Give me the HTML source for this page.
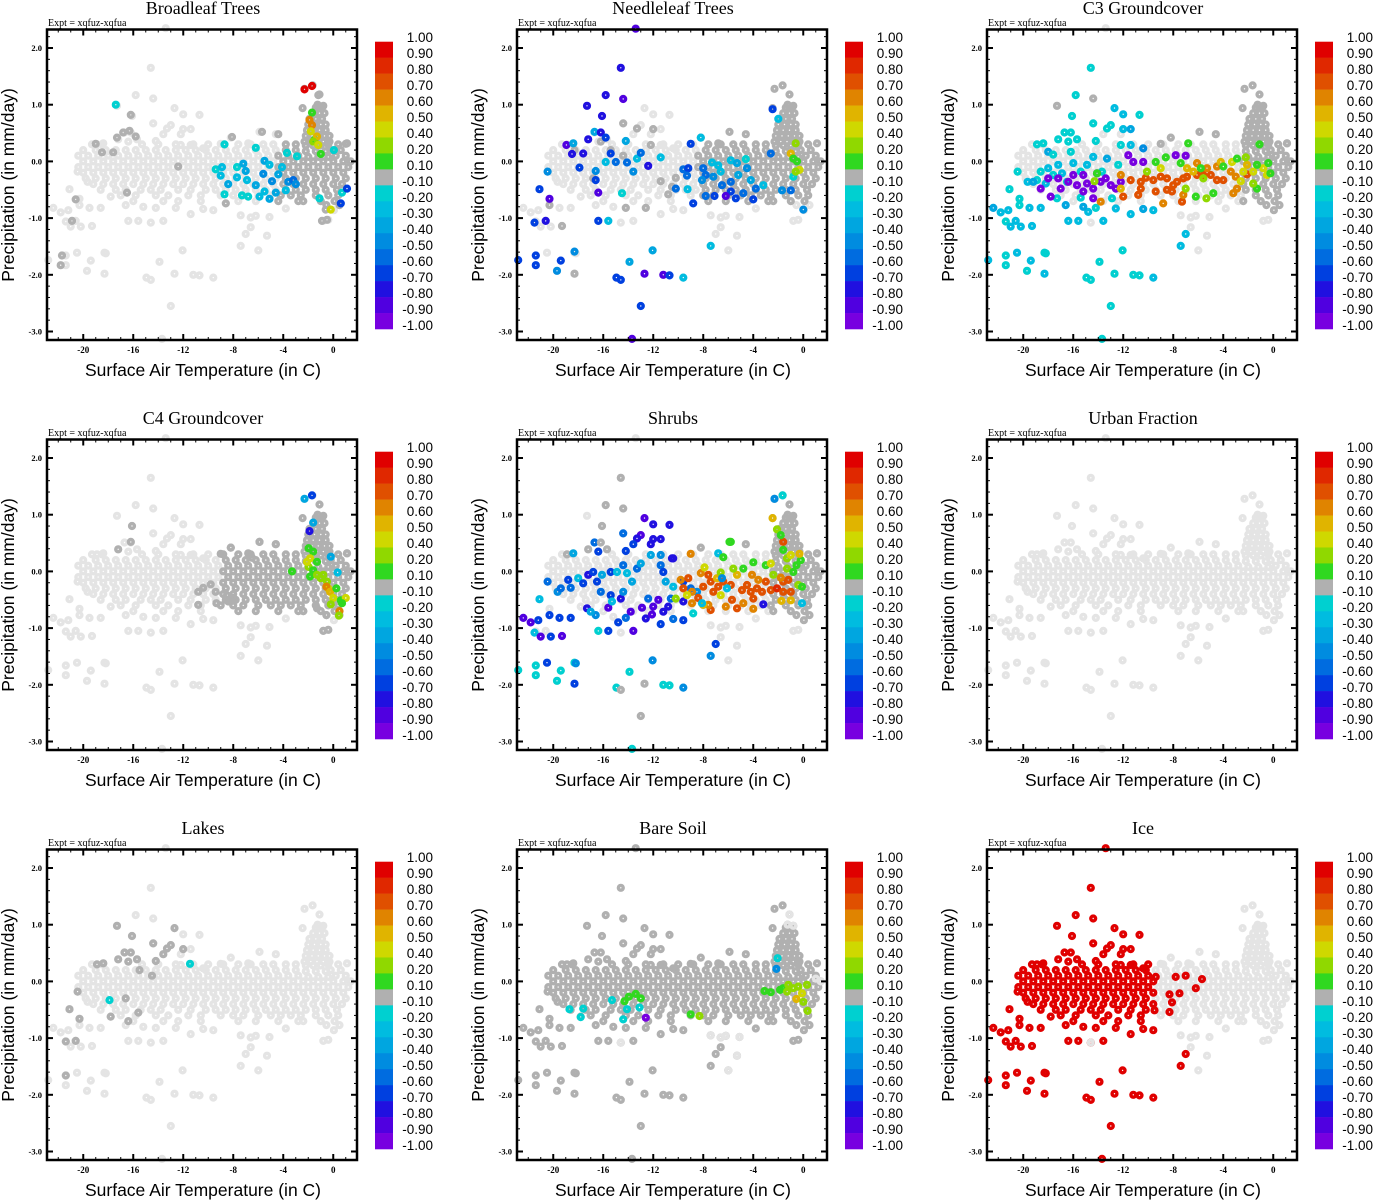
<!DOCTYPE html>
<html><head><meta charset="utf-8"><title>Land fraction scatter</title>
<style>html,body{margin:0;padding:0;background:#fff;}svg{display:block;}</style></head>
<body>
<svg id="fig" width="1373" height="1200" viewBox="0 0 1373 1200" xmlns="http://www.w3.org/2000/svg"></svg>
<script>
// ---------- shared data ----------
const panelTitles = ["Broadleaf Trees","Needleleaf Trees","C3 Groundcover","C4 Groundcover","Shrubs","Urban Fraction","Lakes","Bare Soil","Ice"];
const xTicks = [-20,-16,-12,-8,-4,0];
const yTicks = [2,1,0,-1,-2,-3];
const cbLabels = ["1.00","0.90","0.80","0.70","0.60","0.50","0.40","0.20","0.10","-0.10","-0.20","-0.30","-0.40","-0.50","-0.60","-0.70","-0.80","-0.90","-1.00"];
const binLower = [0.9,0.8,0.7,0.6,0.5,0.4,0.2,0.1,-0.1,-0.2,-0.3,-0.4,-0.5,-0.6,-0.7,-0.8,-0.9,-1.01];
const binColors = ["#e00000","#e02800","#e05000","#e08400","#e0b400","#cfd800","#90d800","#30d820","#b0b0b0","#00d0d0","#00bce0","#00a6e0","#008ce0","#006ce0","#0040e0","#2010e0","#5000e0","#7800e0"];

// base cloud: outliers (temperature, precipitation)
const outlierT = [-14.6,-15.8,-14.4,-17.3,-12.7,-16.1,-12.0,-10.7,-14.4,-13.0,-13.3,-12.0,-11.4,-16.7,-16.2,-13.6,-12.2,-5.9,-4.6,-8.2,-17.2,-15.7,-16.4,-14.2,-18.9,-18.4,-12.2,-11.4,-9.0,-6.8,-10.4,1.1,-2.45,-2.3,-1.65,-1.1,-1.25,-0.8,-20.45,-21.1,-22.4,-21.8,-21.2,-20.3,-20.3,-19.5,-18.6,-21.4,-20.6,-21.0,-20.2,-19.3,-16.4,-15.6,-14.6,-13.6,-17.8,-16.6,-15.2,-14.2,-12.6,-11.4,-10.4,-9.6,-7.4,-6.6,-6.2,-5.1,-3.8,-2.4,-0.55,0.05,0.5,-0.8,-0.4,-6.6,-5.3,-7.0,-7.4,-6.0,-12.05,-13.9,-21.4,-20.5,-21.4,-19.4,-19.7,-18.3,-18.2,-18.3,-14.95,-14.6,-12.7,-11.2,-10.7,-9.6,-13.0,-22.8,-13.4,-13.7,-19.65];
const outlierP = [1.65,1.17,1.11,0.98,0.94,0.80,0.83,0.82,0.67,0.64,0.58,0.57,0.57,0.51,0.51,0.48,0.48,0.52,0.48,0.42,0.39,0.39,0.35,0.36,0.30,0.32,0.29,0.29,0.31,0.32,0.23,0.32,0.94,1.28,1.34,1.18,1.0,0.98,-0.18,-0.49,-0.82,-0.90,-0.86,-0.66,-0.77,-0.82,-0.82,-1.06,-1.05,-1.15,-1.15,-1.14,-1.05,-1.05,-1.08,-1.05,-0.62,-0.77,-0.80,-0.82,-0.82,-0.93,-0.84,-0.86,-0.95,-0.99,-0.96,-0.98,-0.83,-0.70,-0.77,-0.86,-0.77,-1.05,-1.03,-1.16,-1.31,-1.28,-1.49,-1.57,-1.57,-1.77,-1.66,-1.61,-1.83,-1.75,-1.93,-1.61,-1.62,-1.98,-2.05,-2.09,-1.98,-2.0,-2.01,-2.05,-2.55,-1.74,2.35,-3.13,-0.36];

// base cloud: dense band rows (precipitation level and temperatures on that row)
const coreP = [0.30,0.20,0.10,0.00,-0.10,-0.20,-0.30,-0.40,-0.50,-0.60,-0.70,0.95,0.85,0.75,0.65,0.55,0.45,0.35,0.28,0.18,0.08];
const coreT = [
 [-19.3,-18.5,-15.3,-14.0,-12.6,-11.2,-10.0,-8.8,-7.6,-6.6,-5.6,-4.8,-3.8,-3.0,-0.4,0.4],
 [-20.0,-19.0,-18.2,-17.4,-16.6,-15.8,-15.0,-14.2,-13.4,-12.6,-11.8,-11.0,-10.2,-9.4,-8.6,-7.8,-7.0,-6.2,-5.4,-4.6,-3.8,-3.0,-0.2,0.6],
 [-20.4,-19.6,-18.8,-18.0,-17.2,-16.4,-15.6,-14.8,-14.0,-13.2,-12.4,-11.6,-10.8,-10.0,-9.2,-8.4,-7.6,-6.8,-6.0,-5.2,-4.4,-3.6,-2.8,0.2,1.0],
 [-20.0,-19.2,-18.4,-17.6,-16.8,-16.0,-15.2,-14.4,-13.6,-12.8,-12.0,-11.2,-10.4,-9.6,-8.8,-8.0,-7.2,-6.4,-5.6,-4.8,-4.0,-3.2,-2.4,-1.6,-0.8,0.0,0.8,1.4],
 [-20.4,-19.6,-18.8,-18.0,-17.2,-16.4,-15.6,-14.8,-14.0,-13.2,-12.4,-11.6,-10.8,-10.0,-9.2,-8.4,-7.6,-6.8,-6.0,-5.2,-4.4,-3.6,-2.8,-2.0,-1.2,-0.4,0.4,1.2],
 [-20.0,-19.2,-18.4,-17.6,-16.8,-16.0,-15.2,-14.4,-13.6,-12.8,-12.0,-11.2,-10.4,-9.6,-8.8,-8.0,-7.2,-6.4,-5.6,-4.8,-4.0,-3.2,-2.4,-1.6,-0.8,0.0,0.8],
 [-19.8,-19.0,-18.2,-17.4,-16.6,-15.8,-15.0,-14.2,-13.4,-12.6,-11.8,-11.0,-10.2,-9.4,-8.6,-7.8,-7.0,-6.2,-5.4,-4.6,-3.8,-3.0,-2.2,-1.4,-0.6,0.2,1.0],
 [-19.2,-18.4,-17.6,-16.8,-16.0,-15.2,-14.4,-13.6,-12.8,-12.0,-11.2,-10.4,-9.6,-8.8,-8.0,-7.2,-6.4,-5.6,-4.8,-4.0,-3.2,-2.4,-1.6,-0.8,0.0,0.7],
 [-18.6,-17.4,-16.6,-15.4,-14.6,-13.8,-12.4,-11.4,-10.2,-9.4,-8.6,-7.8,-7.0,-6.2,-5.4,-4.6,-3.8,-3.0,-2.2,-1.4,-0.6,0.3],
 [-17.0,-15.8,-14.2,-13.2,-11.6,-10.6,-9.0,-8.0,-7.2,-6.0,-5.0,-4.2,-3.4,-2.6,-1.4,-0.4,0.4],
 [-16.0,-13.6,-12.4,-10.6,-7.6,-6.2,-4.4,-2.8,-1.0,0.1],
 [-1.4,-0.9],
 [-1.6,-1.1,-0.7],
 [-1.9,-1.4,-0.9],
 [-2.0,-1.5,-1.0,-0.6],
 [-2.1,-1.6,-1.1,-0.6],
 [-2.2,-1.7,-1.2,-0.7,-0.3],
 [-2.3,-1.8,-1.3,-0.8,-0.3],
 [-2.2,-1.6,-1.0],
 [-2.2,-1.4,-0.6],
 [-2.0,-1.2,-0.4]
];

// per-panel region fill of the base cloud: [tMin, tMax, pMin, pMax, value]
const broadleafFill = [-4.5,1.5,-0.8,1.5,0];
const needleleafFill = [-8.5,1.5,-0.75,1.5,0];
const c3Fill = [-2.5,1.5,-0.9,1.5,0];
const c4Fill = [-9,1.5,-0.8,1.2,0];
const shrubsFill = [-2.6,1.5,-0.9,1.5,0];
const urbanFill = null;
const lakesFill = null;
const bareFill = [-23,1.5,-3.5,2.5,0];
const iceFill = [-23,-9.5,-3.5,2.5,0.95];

// per-panel highlighted points: [temperature, precipitation, value]
const broadleafPts = [[-2.3,1.27,0.95],[-1.7,1.33,0.95],[-17.4,1.0,-0.15],
[-16.2,0.82,0],[-19.0,0.31,0],[-18.5,0.16,0],[-17.6,0.16,0],[-17.3,0.42,0],[-16.8,0.51,0],[-16.3,0.54,0],[-15.8,0.44,0],[-16.5,-0.55,0],[-12.4,-0.09,0],[-20.6,-0.67,0],[-20.9,-1.05,0],[-21.7,-1.66,0],[-21.8,-1.83,0],[-8.1,0.43,0],[-5.7,0.52,0],[-4.4,0.48,0],[-8.6,-0.74,0],[-1.2,1.17,0],[-1.2,0.97,0],[-0.9,-1.05,0],[-0.5,-1.03,0],[1.0,0.31,0],[-0.6,-0.85,0],
[-9.4,-0.14,-0.2],[-8.9,-0.1,-0.3],[-9.0,-0.25,-0.3],[-8.7,0.3,-0.2],[-8.4,-0.4,-0.35],[-8.7,-0.58,-0.2],[-7.7,-0.1,-0.2],[-7.2,-0.04,-0.35],[-7.0,-0.17,-0.35],[-7.7,-0.28,-0.3],[-6.9,-0.33,-0.3],[-6.2,-0.42,-0.35],[-7.3,-0.6,-0.2],[-6.8,-0.62,-0.2],[-5.9,-0.62,-0.3],[-5.5,-0.53,-0.3],[-5.1,-0.66,-0.35],[-4.6,-0.55,-0.35],[-6.2,0.24,-0.2],[-5.5,0.01,-0.35],[-5.1,-0.06,-0.3],[-5.6,-0.22,-0.45],[-4.9,-0.35,-0.45],[-4.4,-0.23,-0.35],[-4.1,-0.1,-0.3],[-3.7,0.15,-0.2],[-3.6,-0.36,-0.45],[-3.8,-0.51,-0.3],[-3.2,-0.33,-0.55],[-3.0,-0.40,-0.45],[-2.9,0.09,-0.2],[-1.1,-0.65,-0.2],[0.05,0.2,-0.2],[0.7,-0.55,-0.2],[0.6,-0.74,-0.65],[1.1,-0.48,-0.65],
[-1.7,0.86,0.15],[-1.9,0.73,0.65],[-1.7,0.64,0.65],[-1.8,0.53,0.45],[-1.5,0.38,0.15],[-1.3,0.44,0.55],[-1.6,0.35,0.3],[-1.2,0.29,0.45],[-1.0,0.13,0.15],[-0.2,-0.85,0.45]];

const needleleafPts = [[-14.4,0.67,0],[-12.0,0.57,0],[-13.3,0.58,0],[-12.2,0.29,0],[-18.3,0.20,0],[-16.8,-0.30,0],[-16.2,0.35,0],[-15.4,0.20,0],[-14.4,0.10,0],[-11.4,-0.35,0],[-10.8,-0.58,0],[-10.5,-0.45,0],[-10.2,-0.29,0],[-14.2,-0.82,0],[-12.6,-0.82,0],[-20.3,-0.77,0],[-19.3,-1.14,0],[-18.3,-1.98,0],
[-13.4,2.34,-0.85],[-14.6,1.65,-0.75],[-15.8,1.17,-0.75],[-14.4,1.1,-0.85],[-17.3,0.98,-0.8],[-16.1,0.80,-0.8],[-16.7,0.52,-0.35],[-16.2,0.51,-0.8],[-15.8,0.42,-0.65],[-17.2,0.39,-0.8],[-18.95,0.29,-0.85],[-18.4,0.32,-0.4],[-18.5,0.13,-0.8],[-17.6,0.14,-0.75],[-17.9,-0.11,-0.65],[-20.45,-0.18,-0.45],[-21.1,-0.49,-0.65],[-20.3,-0.66,-0.85],[-21.5,-1.08,-0.65],[-20.6,-1.05,-0.8],[-22.8,-1.74,-0.65],[-21.4,-1.66,-0.65],[-21.4,-1.83,-0.65],[-19.4,-1.75,-0.65],[-19.7,-1.93,-0.45],[-18.3,-1.59,-0.45],[-14.95,-2.05,-0.65],[-14.6,-2.09,-0.65],[-12.7,-1.98,-0.85],[-11.2,-2.0,-0.85],[-10.7,-2.01,-0.7],[-9.6,-2.05,-0.25],[-13.0,-2.55,-0.65],[-13.7,-3.13,-0.85],[-13.9,-1.77,-0.4],[-12.05,-1.57,-0.4],[-7.4,-1.49,-0.25],[-16.4,-1.05,-0.65],[-15.6,-1.05,-0.25],[-16.4,-0.55,-0.85],[-16.6,-0.17,-0.5],[-16.6,-0.33,-0.65],[-14.5,-0.56,-0.2],[-15.4,0.14,-0.65],[-15.0,-0.01,-0.55],[-14.2,0.36,-0.35],[-14.1,-0.02,-0.6],[-13.6,-0.18,-0.45],[-13.3,0.05,-0.25],[-13.0,0.15,-0.6],[-12.4,-0.08,-0.8],[-11.4,0.07,-0.25],[-9.0,0.31,-0.65],[-8.2,0.42,-0.25],[-15.8,-0.01,-0.25],[-2.45,0.92,-0.65],[-2.0,0.75,-0.25],[0.0,-0.85,-0.45],
[-9.6,-0.14,-0.6],[-9.2,-0.12,-0.65],[-9.3,-0.25,-0.6],[-8.8,-0.74,-0.65],[-10.2,-0.48,-0.6],[-9.25,-0.49,-0.3],[-8.0,-0.12,-0.6],[-7.8,-0.24,-0.55],[-8.1,-0.33,-0.45],[-7.8,-0.61,-0.6],[-7.1,-0.61,-0.65],[-6.5,-0.42,-0.55],[-5.8,-0.36,-0.6],[-5.8,-0.53,-0.65],[-6.2,-0.61,-0.85],[-5.4,-0.65,-0.7],[-7.3,-0.02,-0.3],[-6.8,-0.07,-0.25],[-5.8,0.02,-0.25],[-5.3,-0.03,-0.35],[-4.6,0.04,-0.2],[-5.2,-0.24,-0.4],[-4.5,-0.12,-0.5],[-4.2,-0.33,-0.35],[-4.8,-0.56,-0.6],[-4.0,-0.67,-0.7],[-3.8,-0.48,-0.55],[-3.2,-0.42,-0.3],[-2.6,0.14,-0.55],[-1.7,-0.51,-0.5],[-1.0,-0.51,-0.6],[-0.8,-0.27,-0.2],[-6.6,-0.18,-0.25],[-7.2,-0.27,-0.45],
[-0.6,0.32,0.3],[-1.0,0.14,0.55],[-0.5,0.0,0.15],[-0.3,-0.15,0.45],[-0.6,-0.18,0.3],[-0.8,0.05,0.15]];

const c3Pts = [[-14.6,1.65,-0.2],[-15.8,1.17,-0.2],[-14.4,1.11,0],[-17.3,0.98,0],[-12.7,0.94,-0.3],[-16.1,0.80,-0.2],[-12.0,0.83,-0.25],[-10.7,0.82,-0.2],[-14.4,0.67,-0.2],[-13.0,0.64,-0.2],[-13.3,0.58,-0.2],[-12.0,0.57,-0.3],[-11.4,0.57,-0.35],[-16.7,0.51,-0.2],[-16.2,0.51,-0.2],[-17.2,0.39,-0.2],[-15.7,0.39,-0.2],[-16.4,0.35,-0.2],[-14.2,0.36,-0.2],[-18.9,0.30,-0.2],[-18.4,0.32,-0.2],[-12.2,0.29,-0.2],[-11.4,0.29,-0.3],[-10.4,0.23,-0.45],[-9.0,0.31,0],[-8.2,0.42,0],[-5.9,0.52,0],[-4.6,0.48,0],[-6.8,0.32,0.15],[1.1,0.32,0],
[-20.45,-0.18,-0.2],[-21.1,-0.49,-0.2],[-22.4,-0.82,-0.35],[-21.8,-0.90,-0.3],[-21.2,-0.86,-0.3],[-20.3,-0.66,-0.2],[-20.3,-0.77,-0.2],[-19.5,-0.82,-0.3],[-18.6,-0.82,-0.3],[-21.4,-1.06,-0.2],[-20.6,-1.05,-0.25],[-21.0,-1.15,-0.3],[-20.2,-1.15,-0.3],[-19.3,-1.14,-0.3],[-16.4,-1.05,-0.3],[-15.6,-1.05,-0.3],[-13.6,-1.05,-0.3],[-22.8,-1.74,-0.3],[-21.4,-1.66,-0.2],[-20.5,-1.61,-0.3],[-21.4,-1.83,-0.2],[-19.4,-1.75,-0.3],[-19.7,-1.93,-0.2],[-18.3,-1.61,-0.2],[-18.2,-1.62,-0.2],[-18.3,-1.98,-0.3],[-14.95,-2.05,-0.2],[-14.6,-2.09,-0.2],[-12.7,-1.98,-0.2],[-11.2,-2.0,-0.2],[-10.7,-2.01,-0.2],[-9.6,-2.05,-0.3],[-13.0,-2.55,-0.2],[-13.7,-3.13,-0.2],[-13.9,-1.77,-0.2],[-12.05,-1.57,-0.2],[-7.4,-1.49,-0.3],[-7.0,-1.28,-0.3],
[-19.65,-0.36,-0.3],[-18.9,-0.33,-0.2],[-18.6,-0.18,-0.2],[-18.0,-0.12,-0.3],[-17.6,-0.24,-0.2],[-17.2,-0.06,-0.25],[-16.9,-0.21,-0.3],[-16.5,-0.36,-0.2],[-16.0,-0.03,-0.25],[-15.4,-0.18,-0.2],[-14.9,-0.06,-0.25],[-14.4,0.08,-0.3],[-13.7,-0.18,-0.2],[-13.3,0.05,-0.35],[-12.4,-0.06,-0.2],[-12.9,-0.65,-0.2],[-15.4,-0.64,-0.2],[-17.3,-0.65,-0.2],[-12.6,-0.83,-0.3],[-11.4,-0.93,-0.3],[-10.4,-0.84,-0.35],[-9.6,-0.86,-0.3],[-14.8,-0.89,-0.3],[-14.2,-0.82,-0.2],[-16.6,-0.77,-0.35],[-15.2,-0.80,-0.35],[-18.0,0.17,-0.35],[-17.6,0.12,-0.2],[-19.2,-0.36,-0.35],[-18.2,-0.39,-0.3],[-16.2,0.17,-0.2],
[-18.6,-0.48,-0.95],[-17.8,-0.62,-0.95],[-18.0,-0.3,-0.95],[-17.0,-0.48,-0.95],[-16.4,-0.36,-0.95],[-16.0,-0.24,-0.95],[-15.7,-0.42,-0.95],[-15.2,-0.24,-0.95],[-14.9,-0.39,-0.95],[-14.4,-0.48,-0.95],[-14.1,-0.21,-0.95],[-13.8,-0.36,-0.95],[-13.4,-0.30,-0.95],[-13.0,-0.42,-0.95],[-12.6,-0.48,-0.95],[-12.2,-0.36,-0.95],[-15.2,-0.53,-0.95],[-14.4,-0.65,-0.95],[-11.6,0.11,-0.95],[-11.2,-0.01,-0.95],[-10.4,-0.01,-0.95],[-7.8,0.11,-0.95],[-7.0,0.10,-0.95],[-17.2,-0.30,-0.95],
[-11.4,-0.33,0.75],[-10.6,-0.36,0.75],[-10.2,-0.29,0.75],[-9.6,-0.33,0.75],[-9.0,-0.27,0.75],[-8.5,-0.30,0.75],[-8.0,-0.42,0.75],[-7.7,-0.36,0.75],[-7.2,-0.30,0.75],[-6.9,-0.27,0.75],[-6.1,-0.24,0.75],[-5.6,-0.24,0.75],[-5.0,-0.24,0.75],[-4.5,-0.33,0.75],[-4.0,-0.33,0.75],[-10.8,-0.59,0.75],[-10.6,-0.48,0.75],[-9.4,-0.53,0.75],[-8.5,-0.50,0.75],[-8.1,-0.53,0.75],[-7.3,-0.71,0.75],[-12.0,-0.62,0.75],[-2.1,-0.23,0.75],
[-12.2,-0.24,0.65],[-6.1,-0.03,0.65],[-5.3,-0.12,0.65],[-4.5,-0.09,0.65],[-3.4,-0.18,0.65],[-3.0,-0.27,0.65],[-7.2,-0.59,0.65],[-8.8,-0.74,0.65],[-13.8,-0.71,0.65],[-3.2,-0.56,0.65],[-2.9,-0.48,0.65],[-12.2,-0.48,0.55],
[-9.0,-0.12,0.45],[-6.9,-0.12,0.55],[-6.4,-0.18,0.55],[-4.2,-0.01,0.55],[-3.3,-0.01,0.45],[-2.4,-0.18,0.45],[-1.6,-0.18,0.45],[-0.8,-0.12,0.45],[-0.5,-0.24,0.45],[-2.1,-0.06,0.55],[-2.6,-0.35,0.45],
[-9.4,-0.01,0.15],[-8.6,0.07,0.15],[-7.4,-0.03,0.15],[-5.8,-0.12,0.15],[-5.6,-0.30,0.3],[-4.8,-0.56,0.15],[-6.2,-0.62,0.15],[-5.35,-0.65,0.3],[-4.0,-0.09,0.15],[-2.9,0.05,0.15],[-2.2,0.07,0.2],[-1.3,-0.06,0.15],[-0.4,-0.03,0.15],[-0.23,-0.21,0.15],[-1.3,-0.48,0.15],[-1.6,-0.39,0.3],[-1.1,0.30,0.15],[-10.1,-0.18,0.3],[-14.3,-0.35,0.3],[-14.1,-0.21,0.15],[-7.0,-0.48,0.3]];

const c4Pts = [[-16.1,0.80,0],[-16.2,0.52,0],[-17.2,0.39,0],[-8.2,0.42,0],[-5.9,0.52,0],[-4.6,0.48,0],[-6.5,0.24,0],[-10.8,-0.36,0],[-10.4,-0.29,0],[-9.8,-0.23,0],[-9.4,-0.36,0],[-10.8,-0.59,0],[-9.35,-0.56,0],[-8.5,-0.42,0],[-8.4,-0.53,0],[-8.0,-0.47,0],[1.1,0.32,0],[-0.8,-1.05,0],[-0.4,-1.03,0],[-0.55,-0.77,0],[-1.3,-0.65,0],[-2.4,-0.70,0],
[-2.3,1.28,-0.35],[-1.7,1.34,-0.7],[-1.6,0.86,-0.35],[-1.9,0.71,-0.75],[-0.2,0.26,-0.35],[0.35,-0.02,-0.3],[-3.3,0.0,0.15],[-1.97,0.41,0.15],[-1.6,0.35,0.15],[-1.85,0.23,0.45],[-1.3,0.17,0.15],[-1.97,0.08,0.3],[-1.6,0.02,0.15],[-1.85,-0.09,0.15],[-1.3,-0.06,0.3],[-0.8,-0.06,0.3],[-0.5,-0.18,0.3],[-0.4,-0.30,0.45],[-0.55,-0.27,0.6],[-0.25,-0.36,0.55],[0.25,-0.30,0.15],[0.0,-0.47,0.45],[0.6,-0.51,0.15],[1.0,-0.47,0.45],[0.7,-0.56,0.15],[-0.2,-0.58,0.3],[0.5,-0.70,0.6],[0.45,-0.78,0.3],[-1.0,-0.12,0.3],[-2.1,0.17,0.45]];

const shrubsPts = [[-22.4,-0.82,-0.85],[-21.8,-0.90,-0.85],[-21.2,-0.86,-0.7],[-20.3,-0.77,-0.65],[-19.5,-0.82,-0.65],[-18.6,-0.82,-0.65],[-21.5,-1.08,-0.25],[-21.0,-1.15,-0.85],[-20.2,-1.15,-0.65],[-19.3,-1.14,-0.85],[-20.45,-0.18,-0.6],[-21.1,-0.49,-0.25],[-19.65,-0.36,-0.5],[-16.4,-1.05,-0.2],[-15.6,-1.05,-0.65],[-13.6,-1.05,-0.85],[-22.8,-1.74,-0.2],[-21.4,-1.66,-0.2],[-20.5,-1.61,-0.7],[-21.4,-1.83,-0.2],[-19.4,-1.75,-0.2],[-19.7,-1.93,-0.2],[-18.3,-1.61,-0.2],[-18.2,-1.62,-0.5],[-18.3,-1.98,-0.65],[-14.95,-2.05,-0.2],[-14.6,-2.09,0],[-13.9,-1.77,-0.2],[-12.05,-1.57,-0.5],[-12.7,-1.98,0],[-11.2,-2.0,-0.2],[-10.7,-2.01,-0.2],[-9.6,-2.05,-0.5],[-7.4,-1.49,-0.5],[-7.0,-1.28,-0.65],[-13.7,-3.13,-0.2],[-13.0,-2.55,0],
[-14.6,1.65,0],[-15.8,1.17,0],[-14.4,1.11,0],[-16.1,0.80,0],[-12.7,0.94,-0.85],[-12.0,0.83,-0.8],[-10.7,0.82,-0.75],[-14.4,0.67,-0.6],[-13.0,0.64,-0.85],[-13.3,0.58,-0.8],[-13.6,0.48,-0.7],[-12.0,0.57,-0.8],[-11.4,0.57,-0.8],[-12.2,0.48,-0.8],[-16.7,0.51,-0.6],[-16.2,0.51,0],[-17.2,0.39,0],[-15.7,0.39,0],[-16.4,0.35,-0.7],[-14.2,0.36,-0.7],[-18.9,0.30,0],[-18.4,0.32,-0.35],[-12.2,0.29,-0.4],[-11.4,0.29,-0.5],[-10.4,0.23,-0.8],[-9.0,0.31,0.65],[-8.2,0.42,0],[-5.9,0.52,0.15],[-4.6,0.48,0],[-6.8,0.32,-0.25],[-2.3,1.28,-0.5],[-1.65,1.34,-0.2],[-2.45,0.94,0.55],[1.1,0.32,0],
[-19.4,-0.30,-0.6],[-18.8,-0.15,-0.7],[-18.6,-0.29,-0.6],[-18.0,-0.12,-0.3],[-17.6,-0.21,-0.65],[-17.2,-0.06,-0.75],[-16.8,-0.01,-0.7],[-16.5,-0.18,-0.65],[-16.1,-0.06,-0.35],[-15.4,-0.01,-0.7],[-14.9,-0.01,-0.3],[-14.4,0.11,-0.6],[-14.1,-0.03,-0.25],[-13.7,-0.18,-0.4],[-13.3,0.05,-0.6],[-13.0,0.14,-0.35],[-11.4,0.11,-0.6],[-11.2,-0.01,-0.65],[-10.5,0.23,-0.8],[-11.0,-0.18,-0.4],[-10.4,-0.27,-0.3],[-9.6,-0.18,-0.65],[-9.0,-0.30,-0.6],[-8.5,-0.36,-0.5],[-15.4,-0.42,-0.65],[-14.6,-0.48,-0.8],[-15.6,-0.64,-0.85],[-17.3,-0.65,-0.75],[-16.6,-0.77,-0.5],[-14.2,-0.82,-0.6],[-14.8,-0.90,-0.65],[-13.8,-0.71,-0.85],[-12.9,-0.64,-0.85],[-12.6,-0.83,-0.8],[-12.1,-0.76,-0.85],[-12.0,-0.62,-0.85],[-11.6,-0.50,-0.85],[-11.4,-0.93,-0.7],[-11.2,-0.71,-0.8],[-10.8,-0.62,-0.8],[-10.4,-0.84,-0.6],[-9.6,-0.86,-0.65],[-10.6,-0.48,-0.6],[-9.6,-0.53,-0.8],[-17.0,-0.71,-0.4],[-15.3,-0.53,-0.25],[-16.2,-0.36,-0.6],[-12.4,-0.48,-0.6],[-14.4,-0.36,-0.5],
[-9.8,-0.15,0.65],[-9.6,-0.30,0.75],[-9.2,-0.12,0.75],[-8.9,-0.36,0.65],[-8.4,-0.47,0.75],[-8.0,-0.27,0.75],[-7.6,-0.06,0.75],[-7.4,-0.18,0.75],[-7.2,-0.36,0.75],[-6.8,-0.27,0.75],[-6.4,-0.18,0.75],[-5.8,-0.24,0.75],[-5.7,-0.50,0.75],[-5.3,-0.65,0.75],[-4.9,-0.33,0.75],[-4.5,-0.24,0.75],[-4.2,-0.36,0.75],[-4.0,-0.48,0.75],[-3.7,-0.30,0.75],[-3.3,-0.36,0.75],[-3.0,-0.18,0.75],[-2.6,-0.33,0.75],[-2.1,-0.30,0.85],[-1.6,-0.18,0.75],[-1.2,-0.15,0.75],[-1.6,-0.36,0.75],[-1.0,-0.36,0.75],[-1.6,0.52,0.75],[-7.4,-0.68,0.75],[-6.2,-0.62,0.65],[-4.8,-0.56,0.65],[-4.0,-0.66,0.65],[-8.2,-0.03,0.65],[-4.1,-0.06,0.65],[-3.6,-0.15,0.65],[-6.9,-0.12,0.55],[-5.3,-0.06,0.55],[-1.8,-0.11,0.65],[-8.9,-0.56,0.65],[-7.6,-0.59,0.65],
[-7.9,0.07,0.45],[-6.6,-0.02,0.3],[-5.8,0.52,0.15],[-6.4,0.25,0.15],[-4.0,0.16,0.15],[-3.0,0.11,0.15],[-2.6,0.14,0.45],[-2.1,0.74,0.3],[-1.8,0.64,0.15],[-1.6,0.38,0.15],[-1.3,0.23,0.3],[-1.0,0.29,0.45],[-0.55,0.11,0.15],[-0.2,0.20,0.15],[-0.3,0.31,0.55],[-0.4,-0.24,0.3],[-0.1,-0.27,0.15],[-1.0,-0.51,0.55],[-1.75,-0.52,0.5],[-10.2,-0.48,0.3],[-9.3,-0.42,0.45],[-8.0,-0.59,0.5],[-6.6,-0.42,0.45],[-5.6,0.05,0.3],[-4.8,0.05,0.15],[-2.4,-0.06,0.3],[-1.3,0.05,0.3],[-0.8,-0.01,0.15],
[-8.8,-0.74,-0.2],[-8.1,-0.56,-0.3],[-0.1,-0.56,-0.3],[-3.2,-0.58,-0.75],[-6.1,-0.30,-0.3],[-6.5,-0.12,-0.45]];

const urbanPts = [];

const lakesPts = [[-17.3,0.98,0],[-16.1,0.80,0],[-18.4,0.32,0],[-16.7,0.51,0],[-16.2,0.51,0],[-17.2,0.39,0],[-15.7,0.39,0],[-16.4,0.35,0],[-14.2,0.36,0],[-18.9,0.30,0],[-15.5,0.2,0],[-14.5,0.1,0],[-13.6,0.48,0],[-12.7,0.94,0],[-14.4,0.67,0],[-13.0,0.64,0],[-13.3,0.58,0],[-12.0,0.57,0],[-20.45,-0.18,0],[-21.1,-0.49,0],[-20.3,-0.66,0],[-21.4,-1.06,0],[-20.6,-1.05,0],[-21.4,-1.66,0],[-17.8,-0.62,0],[-16.6,-0.3,0],[-15.6,-0.55,0],[-16.4,-0.7,0],[-11.46,0.31,-0.2],[-17.9,-0.33,-0.2]];

const barePts = [[-1.1,1.18,null],[-1.25,1.0,null],[-0.8,0.98,null],[1.0,0.05,null],[1.4,0.0,null],[-7.4,-0.95,null],[-6.6,-0.99,null],[-6.2,-0.96,null],[-5.1,-0.98,null],[-5.3,-1.31,null],[-6.0,-1.57,null],[-14.6,-1.08,null],
[-14.3,-0.35,0.15],[-13.95,-0.27,0.15],[-13.4,-0.22,0.15],[-13.0,-0.30,0.15],[-9.0,-0.58,0.15],[-8.3,-0.61,0.3],[-3.1,-0.17,0.15],[-2.6,-0.19,0.15],[-1.6,-0.12,0.15],[-1.2,-0.06,0.3],[-0.8,-0.12,0.3],[-0.4,-0.09,0.3],[0.3,-0.06,0.3],[-0.1,-0.21,0.45],[-0.55,-0.31,0.5],[0.0,-0.36,0.3],[0.35,-0.52,0.3],[-1.85,-0.15,0.15],[-1.3,-0.18,0.3],
[-18.7,-0.49,-0.2],[-17.8,-0.63,-0.2],[-17.6,-0.48,-0.2],[-15.3,-0.33,-0.2],[-14.1,-0.49,-0.2],[-14.4,-0.67,-0.2],[-13.1,-0.46,-0.2],[-2.05,0.41,-0.2],[-12.6,-0.64,-0.95],[-2.15,0.22,-0.5]];

const icePts = [[-9.4,0.08,0.95],[-7.8,0.08,0.95],[-7.0,0.10,0.95],[-5.7,0.04,0.95],[-6.2,-0.12,0.95],[-7.5,-0.21,0.95],[-8.3,-0.23,0.95],[-8.1,-0.37,0.95],[-8.3,-0.54,0.95],[-9.5,-0.51,0.95],[-7.0,-1.28,0.95],[-7.4,-1.49,0.95],[-14.6,-1.08,null]];

const panelFills = [broadleafFill,needleleafFill,c3Fill,c4Fill,shrubsFill,urbanFill,lakesFill,bareFill,iceFill];
const panelPoints = [broadleafPts,needleleafPts,c3Pts,c4Pts,shrubsPts,urbanPts,lakesPts,barePts,icePts];
const panelKeys = ["broadleaf-trees","needleleaf-trees","c3-groundcover","c4-groundcover","shrubs","urban-fraction","lakes","bare-soil","ice"];

// ---------- drawing ----------
const NS = "http://www.w3.org/2000/svg";
const svg = document.getElementById("fig");
const LIGHT = "#e4e4e4";
const T_MIN = -22.9, PX_PER_T = 12.5, P_TOP = 2.0, PX_PER_P = 56.7;
function xScale(t){ return 47 + (t - T_MIN) * PX_PER_T; }
function yScale(p){ return 48 + (P_TOP - p) * PX_PER_P; }
function colorFor(v){
  if (v === null || v === undefined) return LIGHT;
  for (let i = 0; i < binLower.length; i++) { if (v >= binLower[i] - 1e-9) return binColors[i]; }
  return binColors[binColors.length - 1];
}
function mk(tag, attrs, parent){
  const e = document.createElementNS(NS, tag);
  for (const k in attrs) e.setAttribute(k, attrs[k]);
  parent.appendChild(e);
  return e;
}
function basePoints(){
  const pts = [];
  for (let i = 0; i < outlierT.length; i++) pts.push([outlierT[i], outlierP[i]]);
  for (let r = 0; r < coreP.length; r++) for (const t of coreT[r]) pts.push([t, coreP[r]]);
  return pts;
}
const BASE = basePoints();

function drawPoint(g, t, p, col){
  const c = mk("circle", {cx: xScale(t).toFixed(1), cy: yScale(p).toFixed(1), r: 2.4, fill: "none", stroke: col, "stroke-width": 3.4}, g);
  
  
}

for (let k = 0; k < 9; k++) {
  const ox = (k % 3) * 470, oy = Math.floor(k / 3) * 410;
  const g = mk("g", {transform: `translate(${ox},${oy})`}, svg);
  
  

  const title = mk("text", {x: 203, y: 14, "text-anchor": "middle", "font-family": "Liberation Serif, serif", "font-size": 18}, g);
  title.textContent = panelTitles[k];
  
  

  const expt = mk("text", {x: 48, y: 26, "font-family": "Liberation Serif, serif", "font-size": 10}, g);
  expt.textContent = "Expt = xqfuz-xqfua";
  
  

  const pg = mk("g", {}, g);
  
  
  const fill = panelFills[k];
  const light = [], colored = [];
  for (const [t, p] of BASE) {
    if (fill && t >= fill[0] && t <= fill[1] && p >= fill[2] && p <= fill[3]) colored.push([t, p, fill[4]]);
    else light.push([t, p]);
  }
  for (const [t, p] of light) drawPoint(pg, t, p, LIGHT);
  for (const [t, p, v] of colored) drawPoint(pg, t, p, colorFor(v));
  for (const [t, p, v] of panelPoints[k]) drawPoint(pg, t, p, colorFor(v));

  const frame = mk("rect", {x: 47, y: 29.5, width: 310, height: 310.5, fill: "none", stroke: "#000", "stroke-width": 2.5}, g);
  
  

  for (let t = -22; t <= 1; t++) {
    const x = xScale(t), major = (t % 4 === 0);
    const L = major ? 6 : 3;
    mk("line", {x1: x, x2: x, y1: 340, y2: 340 - L, stroke: "#000", "stroke-width": major ? 2 : 1}, g);
    mk("line", {x1: x, x2: x, y1: 29.5, y2: 29.5 + L, stroke: "#000", "stroke-width": major ? 2 : 1}, g);
  }
  for (const t of xTicks) {
    const tl = mk("text", {x: xScale(t), y: 353, "text-anchor": "middle", "font-family": "Liberation Serif, serif", "font-size": 9, "font-weight": "bold"}, g);
    tl.textContent = String(t);
    
    
  }
  for (let i = -16; i <= 11; i++) {
    const p = i * 0.2, y = yScale(p);
    if (y < 30 || y > 339) continue;
    const major = (i % 5 === 0);
    const L = major ? 6 : 3;
    mk("line", {x1: 47, x2: 47 + L, y1: y, y2: y, stroke: "#000", "stroke-width": major ? 2 : 1}, g);
    mk("line", {x1: 357, x2: 357 - L, y1: y, y2: y, stroke: "#000", "stroke-width": major ? 2 : 1}, g);
  }
  for (const p of yTicks) {
    const yl = mk("text", {x: 42, y: yScale(p) + 3, "text-anchor": "end", "font-family": "Liberation Serif, serif", "font-size": 8.5, "font-weight": "bold"}, g);
    yl.textContent = p.toFixed(1);
    
    
  }
  const xt = mk("text", {x: 203, y: 376, "text-anchor": "middle", "font-family": "Liberation Sans, sans-serif", "font-size": 17.5}, g);
  xt.textContent = "Surface Air Temperature (in C)";
  
  
  const yt = mk("text", {x: 0, y: 0, "text-anchor": "middle", "font-family": "Liberation Sans, sans-serif", "font-size": 17.5, transform: "translate(14,185) rotate(-90)"}, g);
  yt.textContent = "Precipitation (in mm/day)";
  
  

  const cb = mk("g", {}, g);
  
  
  const boxH = (329 - 41.7) / binColors.length;
  for (let i = 0; i < binColors.length; i++) {
    const r = mk("rect", {x: 375, y: (41.7 + i * boxH).toFixed(2), width: 18, height: (boxH + 0.3).toFixed(2), fill: binColors[i]}, cb);
    
    
  }
  for (let i = 0; i < cbLabels.length; i++) {
    const tl = mk("text", {x: 433, y: 37 + i * 16 + 5, "text-anchor": "end", "font-family": "Liberation Sans, sans-serif", "font-size": 13.5}, cb);
    tl.textContent = cbLabels[i];
    
    
  }
}
</script>
</body></html>
